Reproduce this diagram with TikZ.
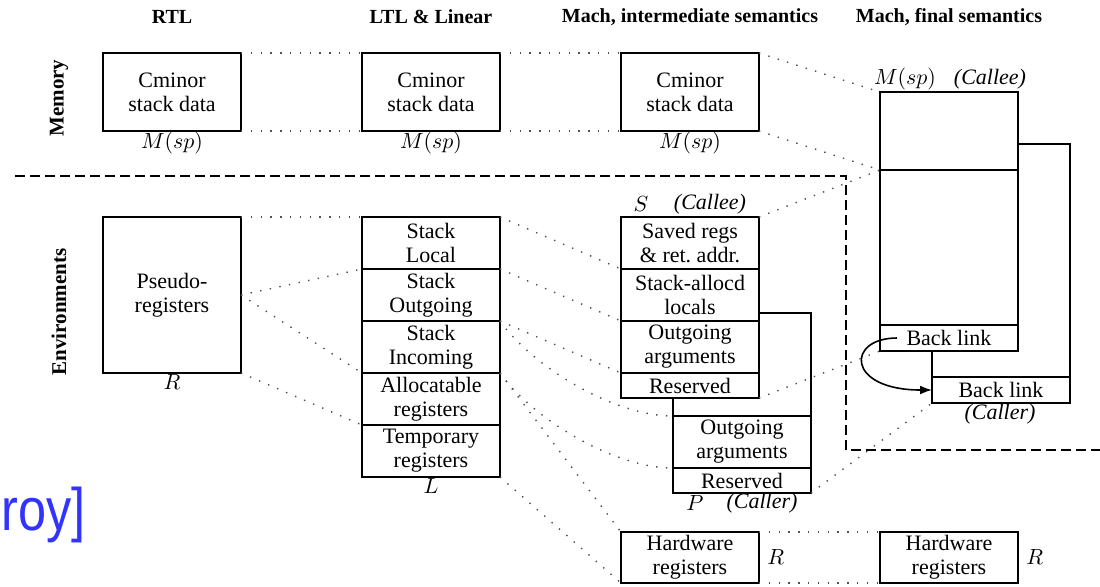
\documentclass[tikz,border=0pt]{standalone}
\usepackage[no-math]{fontspec}
\setmainfont{Liberation Serif}
\newfontfamily\slidefont{Liberation Sans}
\usepackage{xcolor}
\usepackage{tikz}
\usetikzlibrary{arrows.meta,positioning}
\definecolor{slideblue}{RGB}{51,51,255}
\definecolor{mapgray}{RGB}{80,80,80}

\begin{document}
\begin{tikzpicture}[
    x=0.5pt, y=-0.5pt,
    every node/.style={font=\fontsize{11}{12}\selectfont, align=center},
    cell/.style={rectangle, draw, line width=0.8pt, minimum width=69pt, minimum height=26pt, inner sep=0pt, outer sep=0pt},
    membox/.style={cell, minimum height=39pt},
    resbox/.style={cell, minimum height=12.5pt},
    tag/.style={inner sep=0pt},
    head/.style={font=\fontsize{10}{12}\selectfont\bfseries},
    side/.style={font=\fontsize{10.5}{12}\selectfont\bfseries, rotate=90},
    link/.style={line width=0.8pt},
    map/.style={draw=mapgray, line width=0.7pt, dash pattern=on 0.7pt off 4.2pt},
    frontier/.style={line width=1.2pt, dash pattern=on 5pt off 2.5pt},
    arr/.style={-{Latex[length=6pt, width=4.5pt]}, line width=0.8pt}
]
\useasboundingbox (0,0) rectangle (1100,586);

\node[head] (trtl) at (172,17) {RTL};
\node[head] (tltl) at (431,17) {LTL \& Linear};
\node[head] (tmint) at (690,17) {Mach, intermediate semantics};
\node[head] (tmfin) at (949,17) {Mach, final semantics};
\node[side] (lmem) at (59,98) {Memory};
\node[side] (lenv) at (59,312) {Environments};

% memory row
\node[membox, anchor=north west] (rtlmem) at (103,53) {Cminor\\stack data};
\node[membox, right=60.5pt of rtlmem] (ltlmem) {Cminor\\stack data};
\node[membox, right=60.5pt of ltlmem] (mintmem) {Cminor\\stack data};
\node[tag, below=0.5pt of rtlmem] (rtlsp) {$M(sp)$};
\node[tag, below=0.5pt of ltlmem] (ltlsp) {$M(sp)$};
\node[tag, below=0.5pt of mintmem] (mintsp) {$M(sp)$};

% environments
\node[cell, minimum height=78pt, anchor=north west] (pseudo) at (103,217) {Pseudo-\\registers};
\node[tag, below=0.5pt of pseudo] (rtlR) {$R$};

\node[cell, anchor=north west] (slocal) at (362,217) {Stack\\Local};
\node[cell, below=0pt of slocal] (sout) {Stack\\Outgoing};
\node[cell, below=0pt of sout] (sinc) {Stack\\Incoming};
\node[cell, below=0pt of sinc] (alloc) {Allocatable\\registers};
\node[cell, below=0pt of alloc] (temp) {Temporary\\registers};
\node[tag, below=0.5pt of temp] (ltlL) {$L$};

\node[cell, anchor=north west] (saved) at (621,217) {Saved regs\\\& ret.\ addr.};
\node[cell, below=0pt of saved] (stackloc) {Stack-allocd\\locals};
\node[cell, below=0pt of stackloc] (outarg) {Outgoing\\arguments};
\node[resbox, below=0pt of outarg] (resv) {Reserved};
\node[tag] (sname) at (641,204) {$S$};
\node[tag] (scallee) at (710,204) {\textit{(Callee)}};

\node[cell, anchor=north west] (couts) at (673,416) {Outgoing\\arguments};
\node[resbox, below=0pt of couts] (cresv) {Reserved};
\node[tag] (pname) at (695,503) {$P$};
\node[tag] (pcaller) at (762,503) {\textit{(Caller)}};
\draw[link] (resv.south -| couts.west) -- (couts.north west);
\draw[link] ([yshift=4pt]stackloc.south east) -| (cresv.south east);

\node[cell, anchor=north west, minimum height=25.5pt] (hw1) at (621,532) {Hardware\\registers};
\node[cell, right=60.5pt of hw1, minimum height=25.5pt] (hw2) {Hardware\\registers};
\node[tag, right=4pt of hw1] (hw1R) {$R$};
\node[tag, right=4pt of hw2] (hw2R) {$R$};

% final semantics
\node[membox, anchor=north west] (ftop) at (880,92) {};
\node[cell, minimum height=77.5pt, below=0pt of ftop] (fmid) {};
\node[resbox, minimum height=13pt, below=0pt of fmid] (blink) {Back link};
\node[resbox, minimum height=13pt, anchor=north west] (blink2) at (932,377) {Back link};
\node[tag] (fsp) at (905,79) {$M(sp)$};
\node[tag] (fcallee) at (990,79) {\textit{(Callee)}};
\node[tag] (fcaller) at (1000,414) {\textit{(Caller)}};
\draw[link] (blink.south -| blink2.west) -- (blink2.north west);
\draw[link] ([yshift=13pt]ftop.south east) -| (blink2.north east);
\draw[arr] ([xshift=8.5pt]blink.west) .. controls +(-51,0) and +(-86,0) .. (blink2.west);

\draw[frontier] (15,176) -| (846,450) -- (1100,450);

% correspondences
\draw[map] (rtlmem.north east) -- (ltlmem.north west);
\draw[map] (rtlmem.south east) -- (ltlmem.south west);
\draw[map] (ltlmem.north east) -- (mintmem.north west);
\draw[map] (ltlmem.south east) -- (mintmem.south west);
\draw[map] (mintmem.north east) -- (ftop.north west);
\draw[map] (mintmem.south east) -- (ftop.south west);

\draw[map] (pseudo.north east) -- (slocal.north west);
\draw[map] (pseudo.east) -- (sout.north west);
\draw[map] (pseudo.east) -- (alloc.north west);
\draw[map] (pseudo.south east) -- (temp.north west);

\draw[map] (slocal.north east) -- (stackloc.north west);
\draw[map] (slocal.south east) -- (outarg.north west);
\draw[map] (sout.south east) -- (resv.north west);
\draw[map] (sout.south east) .. controls +(32,45) and +(-60,0) .. (couts.north west);
\draw[map] (sinc.south east) .. controls +(32,45) and +(-60,0) .. (couts.south west);
\draw[map] (sinc.south east) -- (hw1.north west);
\draw[map] (temp.south east) -- (hw1.south west);

\draw[map] (saved.north east) -- (fmid.north west);
\draw[map] (resv.south east) -- (blink.south west);
\draw[map] (cresv.south east) -- (blink2.south west);
\draw[map] (hw1.north east) -- (hw2.north west);
\draw[map] (hw1.south east) -- (hw2.south west);

\node[font=\slidefont\fontsize{30}{32}\selectfont, text=slideblue, anchor=base east, inner sep=0pt, xscale=0.84] (slidetxt) at (86,530) {roy]};

\end{tikzpicture}
\end{document}
